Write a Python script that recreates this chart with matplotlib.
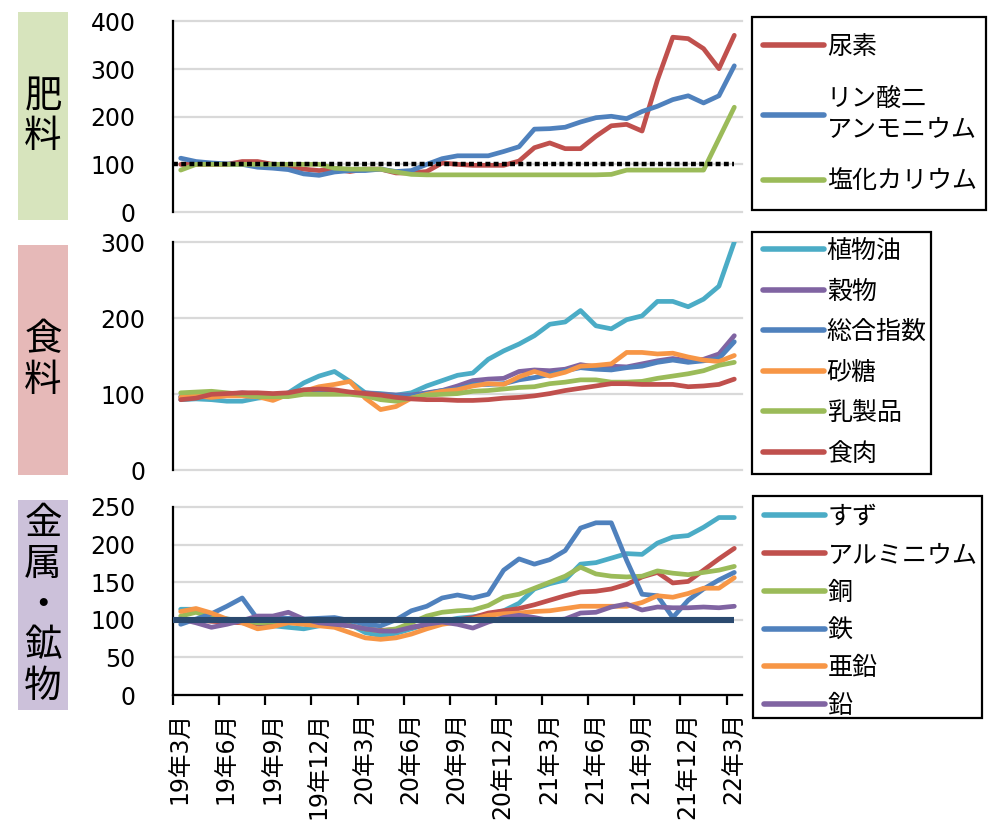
import numpy as np
import matplotlib
matplotlib.use('Agg')
import matplotlib.pyplot as plt
from matplotlib.patches import Rectangle

plt.rcParams['font.family'] = ['DejaVu Sans', 'Noto Sans CJK JP']

# months 19年3月 .. 22年3月 (37 points), labels every 3 months
tick_labels = ['19年3月', '19年6月', '19年9月', '19年12月',
               '20年3月', '20年6月', '20年9月', '20年12月',
               '21年3月', '21年6月', '21年9月', '21年12月', '22年3月']
months = np.arange(37)

# ---- 肥料 ----
fert_names = ['尿素', 'リン酸二\nアンモニウム', '塩化カリウム']
urea = [100, 100, 100, 100, 106, 106, 100, 96, 90, 87, 90, 85, 90, 90, 82, 82, 85, 103, 100,
        98, 98, 98, 107, 135, 145, 133, 133, 159, 181, 184, 170, 277, 367, 364, 343, 301, 371]
dap = [113, 106, 103, 101, 100, 94, 92, 89, 80, 77, 84, 87, 87, 90, 85, 87, 100, 112, 118,
       118, 118, 127, 137, 174, 175, 178, 189, 198, 201, 196, 211, 222, 236, 244, 229, 244, 307]
potash = [88, 100, 100, 100, 100, 100, 100, 100, 100, 100, 92, 90, 90, 90, 84, 79, 78, 78, 78,
          78, 78, 78, 78, 78, 78, 78, 78, 78, 79, 88, 88, 88, 88, 88, 88, 154, 220]

# ---- 食料 ----
food_names = ['植物油', '穀物', '総合指数', '砂糖', '乳製品', '食肉']
veg_oil = [93, 94, 93, 91, 91, 95, 97, 102, 115, 124, 130, 117, 102, 101, 99, 102, 111, 118, 125,
           128, 146, 157, 166, 177, 192, 195, 210, 190, 186, 198, 203, 222, 222, 215, 225, 242, 300]
cereals = [97, 98, 99, 100, 102, 100, 99, 100, 101, 102, 103, 102, 102, 100, 99, 99, 102, 105, 111,
           118, 120, 121, 130, 132, 131, 133, 139, 136, 137, 136, 140, 144, 147, 144, 146, 153, 177]
food_index = [96, 97, 98, 99, 100, 99, 98, 99, 101, 103, 104, 102, 100, 99, 98, 98, 101, 105, 107,
              113, 113, 114, 119, 122, 126, 131, 135, 133, 132, 135, 137, 142, 145, 142, 144, 147, 169]
sugar = [96, 98, 96, 98, 98, 97, 92, 100, 104, 110, 113, 117, 95, 80, 84, 95, 100, 104, 106,
         111, 114, 113, 123, 130, 124, 129, 137, 138, 140, 155, 155, 153, 154, 149, 145, 143, 151]
dairy = [102, 103, 104, 102, 100, 97, 97, 97, 100, 100, 100, 100, 98, 93, 91, 95, 99, 100, 101,
         104, 105, 107, 109, 110, 114, 116, 119, 119, 116, 116, 117, 121, 124, 127, 131, 138, 142]
meat = [93, 95, 100, 101, 102, 102, 101, 102, 106, 107, 106, 103, 101, 99, 96, 94, 93, 93, 92,
        92, 93, 95, 96, 98, 101, 105, 108, 111, 114, 114, 113, 113, 113, 110, 111, 113, 120]

# ---- 金属・鉱物 ----
metal_names = ['すず', 'アルミニウム', '銅', '鉄', '亜鉛', '鉛']
tin = [114, 114, 105, 101, 99, 94, 92, 90, 88, 92, 96, 94, 83, 79, 82, 88, 94, 98, 102,
       104, 107, 112, 122, 141, 148, 153, 174, 176, 182, 188, 187, 202, 210, 212, 223, 236, 236]
aluminium = [100, 100, 98, 97, 96, 95, 96, 97, 97, 96, 95, 92, 88, 86, 87, 90, 93, 96, 100,
             103, 109, 112, 115, 120, 126, 132, 137, 138, 141, 147, 157, 163, 149, 151, 166, 181, 195]
copper = [105, 110, 103, 101, 99, 96, 97, 99, 100, 99, 96, 92, 88, 85, 88, 96, 105, 110, 112,
          113, 119, 130, 134, 142, 150, 158, 170, 161, 158, 157, 158, 165, 162, 160, 163, 166, 171]
iron = [94, 101, 108, 118, 129, 101, 102, 102, 101, 102, 103, 99, 94, 92, 100, 112, 118, 129, 133,
        129, 134, 166, 181, 174, 180, 192, 222, 229, 229, 179, 134, 132, 103, 126, 141, 153, 163]
zinc = [111, 115, 109, 101, 96, 88, 91, 96, 94, 92, 90, 83, 76, 74, 76, 81, 88, 94, 97,
        101, 106, 108, 109, 111, 112, 115, 118, 118, 118, 118, 123, 132, 130, 135, 142, 142, 156]
lead = [101, 96, 90, 94, 99, 105, 105, 110, 101, 96, 94, 92, 88, 85, 85, 90, 94, 97, 94,
        89, 97, 103, 106, 103, 99, 101, 109, 110, 117, 121, 113, 117, 116, 116, 117, 116, 118]

RED, BLUE, GREEN = '#C0504D', '#4F81BD', '#9BBB59'
PURPLE, CYAN, ORANGE = '#8064A2', '#4BACC6', '#F79646'

W, H = 993, 830
fig = plt.figure(figsize=(W / 100, H / 100), dpi=100)


def box(x0, y0, x1, y1):
    # pixel box (top-left origin) -> figure fraction rect
    return [x0 / W, 1 - y1 / H, (x1 - x0) / W, (y1 - y0) / H]


def style(ax, ymax, step, pad):
    ax.set_xlim(-0.5, 36.5)
    ax.set_ylim(0, ymax)
    ax.set_yticks(np.arange(0, ymax + 1, step))
    ax.yaxis.grid(True, color='#D9D9D9', linewidth=1.6)
    for gl in ax.get_ygridlines():
        gl.set_clip_on(False)
    ax.set_axisbelow(True)
    for s in ['top', 'right', 'bottom']:
        ax.spines[s].set_visible(False)
    ax.spines['left'].set_linewidth(1.6)
    ax.tick_params(axis='y', length=0, labelsize=17, pad=pad)
    ax.tick_params(axis='x', bottom=False, labelbottom=False)


def legend(ax, x, y, spacing):
    leg = ax.legend(loc='upper left', bbox_to_anchor=(x / W, 1 - y / H),
                    bbox_transform=fig.transFigure, frameon=False, borderpad=0,
                    borderaxespad=0, handlelength=2.45, handletextpad=0.1,
                    labelspacing=spacing, prop={'family': ['Noto Sans CJK JP'], 'size': 18})
    for ln in leg.get_lines():
        ln.set_linewidth(4)
    return leg


LW = 3.4

# panel 1
ax1 = fig.add_axes(box(173, 21.5, 742, 212))
for vals, c, name in zip([urea, dap, potash], [RED, BLUE, GREEN], fert_names):
    ax1.plot(months, vals, color=c, lw=LW, label=name, solid_capstyle='round')
ax1.hlines(100, months[0] - 0.5, months[-1], color='black', lw=3.2, linestyles=(0, (1.1, 0.75)), zorder=5)
style(ax1, 400, 100, 27)
legend(ax1, 763, 34, 1.05)

# panel 2
ax2 = fig.add_axes(box(173, 242, 742, 470.5))
for vals, c, name in zip([veg_oil, cereals, food_index, sugar, dairy, meat],
                         [CYAN, PURPLE, BLUE, ORANGE, GREEN, RED], food_names):
    ax2.plot(months, vals, color=c, lw=LW, label=name, solid_capstyle='round')
style(ax2, 300, 100, 20)
legend(ax2, 763, 238, 0.58)

# panel 3
ax3 = fig.add_axes(box(173, 507, 742, 695))
for vals, c, name in zip([tin, aluminium, copper, iron, zinc, lead],
                         [CYAN, RED, GREEN, BLUE, ORANGE, PURPLE], metal_names):
    ax3.plot(months, vals, color=c, lw=LW, label=name, solid_capstyle='round')
ax3.hlines(100, months[0] - 0.5, months[-1], color='#2B4A6F', lw=4.4, zorder=5)
style(ax3, 250, 50, 27)
ax3.spines['bottom'].set_visible(True)
ax3.spines['bottom'].set_linewidth(1.6)
ax3.set_xticks(np.arange(-0.5, 36, 3))
ax3.set_xticks(months[::3], minor=True)
ax3.set_xticklabels(tick_labels, minor=True, rotation=90, fontsize=17)
ax3.tick_params(axis='x', which='major', bottom=True, length=7, width=1.6, labelbottom=False)
ax3.tick_params(axis='x', which='minor', bottom=True, length=0, labelbottom=True, pad=12)
legend(ax3, 764, 504, 0.47)

# legend frames
for x0, y0, x1, y1 in [(752, 17, 986, 210), (752, 232, 931, 474), (753, 496, 982, 718)]:
    fig.add_artist(Rectangle((x0 / W, 1 - y1 / H), (x1 - x0) / W, (y1 - y0) / H,
                             transform=fig.transFigure, fill=False, edgecolor='black', lw=1.6))

# side category labels
for (y0, y1), col, txt in [((12, 220), '#D7E4BD', '肥\n料'),
                            ((245, 475), '#E6B9B8', '食\n料'),
                            ((500, 710), '#CCC1DA', '金\n属\n・\n鉱\n物')]:
    fig.add_artist(Rectangle((18 / W, 1 - y1 / H), 50 / W, (y1 - y0) / H,
                             transform=fig.transFigure, color=col, lw=0))
    fig.text(43 / W, 1 - (y0 + y1) / 2 / H, txt, ha='center', va='center', fontsize=27,
             linespacing=1.05, family=['Noto Sans CJK JP'])

fig.savefig('out.png', dpi=100)
